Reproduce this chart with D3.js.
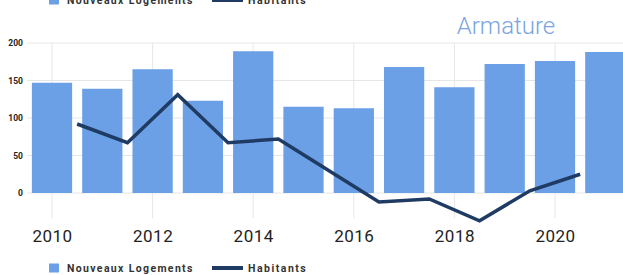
<!DOCTYPE html>
<html>
<head>
<meta charset="utf-8">
<script src="https://cdn.jsdelivr.net/npm/d3@7"></script>
<style>
  html, body { margin: 0; padding: 0; background: #fff; }
  svg { display: block; font-family: Roboto, "Liberation Sans", sans-serif; }
</style>
</head>
<body>
<svg id="chart" width="623" height="275"></svg>
<script>
// data
let years = [2010, 2011, 2012, 2013, 2014, 2015, 2016, 2017, 2018, 2019, 2020, 2021]
let logements = [147, 139, 165, 123, 189, 115, 113, 168, 141, 172, 176, 188]
// habitants are plotted between two years (year + 0.5)
let habitantYears = [2010, 2011, 2012, 2013, 2014, 2015, 2016, 2017, 2018, 2019, 2020]
let habitants = [92, 67, 131, 67, 72, 30, -12, -8, -37, 3, 25]
let yTicks = [0, 50, 100, 150, 200]
let xTicks = [2010, 2012, 2014, 2016, 2018, 2020]

let barColor = '#6b9fe6'
let lineColor = '#1f3b63'

let svg = d3.select('#chart')

let x = d3.scaleLinear().domain([2010, 2020]).range([52, 555])
let y = d3.scaleLinear().domain([0, 200]).range([193, 43])
let barW = (x(2011) - x(2010)) * 0.8

// grid
svg.append('g').selectAll('line')
  .data(yTicks)
  .enter().append('line')
  .attr('x1', 27).attr('x2', 623)
  .attr('y1', d => y(d)).attr('y2', d => y(d))
  .attr('stroke', '#e6e6e6')
  .attr('stroke-width', 1)

svg.append('g').selectAll('line')
  .data(xTicks)
  .enter().append('line')
  .attr('x1', d => x(d)).attr('x2', d => x(d))
  .attr('y1', y(200)).attr('y2', 218)
  .attr('stroke', '#e6e6e6')
  .attr('stroke-width', 1)

// y labels
svg.append('g').selectAll('text')
  .data(yTicks)
  .enter().append('text')
  .attr('x', 23)
  .attr('y', d => y(d) + 3)
  .attr('text-anchor', 'end')
  .attr('font-size', 8.5)
  .attr('font-weight', 'bold')
  .attr('fill', '#222')
  .text(d => d)

// x axis labels
let xAxis = svg.append('g')
  .attr('transform', 'translate(0,226)')
  .call(d3.axisBottom(x).tickValues(xTicks).tickFormat(d3.format('d')).tickSize(0).tickPadding(0))
xAxis.select('.domain').remove()
xAxis.selectAll('text')
  .attr('dy', '0.95em')
  .attr('font-size', 17)
  .attr('font-family', 'Roboto, sans-serif')
  .attr('letter-spacing', 0.5)
  .attr('fill', '#222')

// bars
svg.append('g').selectAll('rect')
  .data(logements)
  .enter().append('rect')
  .attr('x', (d, i) => x(years[i]) - barW / 2)
  .attr('y', d => y(d))
  .attr('width', barW)
  .attr('height', d => y(0) - y(d))
  .attr('fill', barColor)

// line
let line = d3.line()
  .x((d, i) => x(habitantYears[i] + 0.5))
  .y(d => y(d))

svg.append('path')
  .datum(habitants)
  .attr('d', line)
  .attr('fill', 'none')
  .attr('stroke', lineColor)
  .attr('stroke-width', 3.5)
  .attr('stroke-linejoin', 'miter')

// title
svg.append('text')
  .attr('x', 506)
  .attr('y', 34)
  .attr('text-anchor', 'middle')
  .attr('font-size', 24)
  .attr('font-weight', 300)
  .attr('fill', '#7aa5e0')
  .text('Armature')

// legends (one partly cut at top, one at bottom)
function legend(cy) {
  let g = svg.append('g')
  g.append('rect')
    .attr('x', 49).attr('y', cy - 4.5)
    .attr('width', 10).attr('height', 9)
    .attr('fill', barColor)
  g.append('text')
    .attr('x', 67).attr('y', cy + 4)
    .attr('font-size', 10.5)
    .attr('font-weight', 'bold')
    .attr('letter-spacing', 1.35)
    .attr('fill', '#333')
    .text('Nouveaux Logements')
  g.append('line')
    .attr('x1', 212).attr('x2', 243)
    .attr('y1', cy).attr('y2', cy)
    .attr('stroke', lineColor)
    .attr('stroke-width', 4)
  g.append('text')
    .attr('x', 248).attr('y', cy + 4)
    .attr('font-size', 10.5)
    .attr('font-weight', 'bold')
    .attr('letter-spacing', 1.5)
    .attr('fill', '#333')
    .text('Habitants')
}
legend(0)
legend(268)
</script>
</body>
</html>
